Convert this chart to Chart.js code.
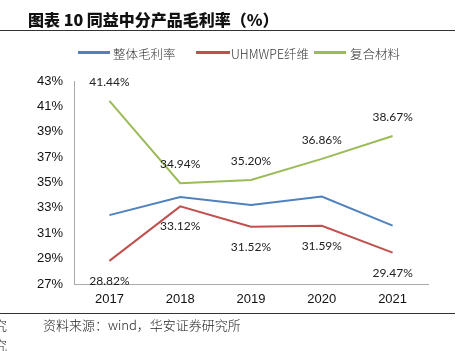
<!DOCTYPE html>
<html>
<head>
<meta charset="utf-8">
<script src="https://cdn.jsdelivr.net/npm/chart.js@4"></script>
<style>
  body { margin: 0; background: #fff; }
  #wrap { position: relative; width: 463px; height: 351px; overflow: hidden; font-family: "Noto Sans CJK SC", sans-serif; }
  #chart { position: absolute; left: 0; top: 0; }
  .title { position: absolute; left: 28px; top: 7px; font-size: 16px; font-weight: 900; color: #111; white-space: nowrap; }
  .rule { position: absolute; left: 0; width: 455px; height: 1px; background: #333; }
  .legend { position: absolute; top: 44px; left: 0; font-size: 12.5px; font-weight: 300; color: #333; white-space: nowrap; }
  .legend span { position: absolute; top: 0; }
  .legend i { position: absolute; top: 7px; height: 3px; }
  .src { position: absolute; top: 315px; font-size: 13px; font-weight: 300; color: #222; white-space: nowrap; }
</style>
</head>
<body>
<div id="wrap">
  <canvas id="chart" width="463" height="351"></canvas>
  <div class="title">图表 10 同益中分产品毛利率（%）</div>
  <div class="rule" style="top:30px"></div>
  <div class="legend">
    <i style="left:78px;width:32px;background:#4F81BD"></i><span style="left:113px">整体毛利率</span>
    <i style="left:196px;width:34px;background:#C0504D"></i><span style="left:231px">UHMWPE纤维</span>
    <i style="left:314px;width:32px;background:#9BBB59"></i><span style="left:350px">复合材料</span>
  </div>
  <div class="rule" style="top:313px"></div>
  <div class="src" style="left:43px">资料来源：wind，华安证券研究所</div>
  <div class="src" style="left:-6px">究</div>
  <div class="src" style="left:-6px;top:335px">究</div>
</div>
<script>
// data
const years = ['2017', '2018', '2019', '2020', '2021'];
const overall = [32.43, 33.85, 33.22, 33.90, 31.60];
const uhmwpe = [28.82, 33.12, 31.52, 31.59, 29.47];
const composite = [41.44, 34.94, 35.20, 36.86, 38.67];
const yTicks = [27, 29, 31, 33, 35, 37, 39, 41, 43];

// labels above for composite, below for uhmwpe
const labelPlugin = {
  id: 'pointLabels',
  afterDatasetsDraw(chart) {
    const ctx = chart.ctx;
    ctx.save();
    ctx.font = '12px Lato, sans-serif';
    ctx.fillStyle = '#222';
    ctx.textAlign = 'center';
    ctx.textBaseline = 'middle';
    chart.data.datasets.forEach((ds, i) => {
      if (!ds.labelPos) return;
      chart.getDatasetMeta(i).data.forEach((pt, j) => {
        const dy = ds.labelPos === 'top' ? -19 : 20;
        ctx.fillText(ds.data[j].toFixed(2) + '%', pt.x, pt.y + dy);
      });
    });
    ctx.restore();
  }
};

new Chart(document.getElementById('chart'), {
  type: 'line',
  data: {
    labels: years,
    datasets: [
      { label: '整体毛利率', data: overall, borderColor: '#4F81BD', borderWidth: 2, pointRadius: 0 },
      { label: 'UHMWPE纤维', data: uhmwpe, borderColor: '#C0504D', borderWidth: 2, pointRadius: 0, labelPos: 'bottom' },
      { label: '复合材料', data: composite, borderColor: '#9BBB59', borderWidth: 2, pointRadius: 0, labelPos: 'top' }
    ]
  },
  options: {
    responsive: false,
    animation: false,
    layout: { padding: { top: 81, right: 35, left: 0, bottom: 0 } },
    plugins: { legend: { display: false }, tooltip: { enabled: false } },
    scales: {
      x: {
        offset: true,
        grid: { display: false, drawTicks: false },
        border: { color: '#aaa' },
        ticks: { color: '#111', font: { family: 'Liberation Sans, Arial', size: 13 }, padding: 8 },
        afterFit(s) { s.height = 67; }
      },
      y: {
        min: 27, max: 43,
        afterBuildTicks(s) { s.ticks = yTicks.map(v => ({ value: v })); },
        grid: { display: false, drawTicks: false },
        border: { color: '#aaa' },
        ticks: { color: '#111', font: { family: 'Liberation Sans, Arial', size: 13 }, padding: 11, callback: v => v + '%' },
        afterFit(s) { s.width = 74; }
      }
    }
  },
  plugins: [labelPlugin]
});
</script>
</body>
</html>
